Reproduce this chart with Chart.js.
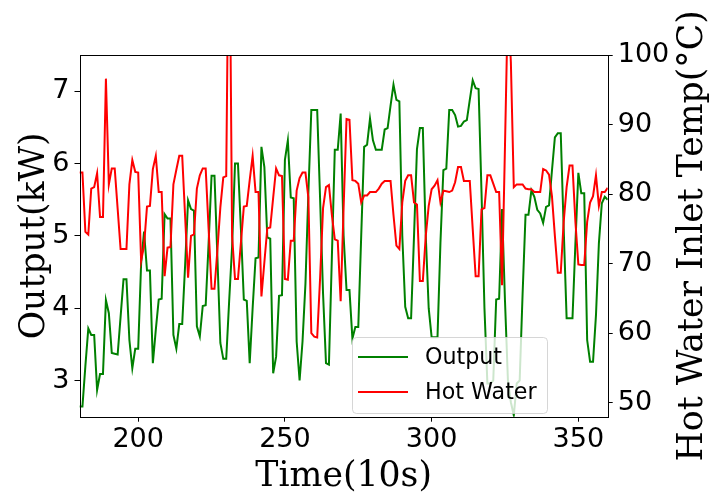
<!DOCTYPE html>
<html><head><meta charset="utf-8">
<script src="https://cdn.jsdelivr.net/npm/chart.js@4.4.1/dist/chart.umd.min.js"></script>
<style>html,body{margin:0;padding:0;background:#fff}</style>
</head><body>
<canvas id="c" width="710" height="496" style="width:710px;height:496px;display:block"></canvas>
<script>
const timeSteps = [
180,181,182,183,184,185,186,187,188,189,
190,191,192,193,194,195,196,197,198,199,
200,201,202,203,204,205,206,207,208,209,
210,211,212,213,214,215,216,217,218,219,
220,221,222,223,224,225,226,227,228,229,
230,231,232,233,234,235,236,237,238,239,
240,241,242,243,244,245,246,247,248,249,
250,251,252,253,254,255,256,257,258,259,
260,261,262,263,264,265,266,267,268,269,
270,271,272,273,274,275,276,277,278,279,
280,281,282,283,284,285,286,287,288,289,
290,291,292,293,294,295,296,297,298,299,
300,301,302,303,304,305,306,307,308,309,
310,311,312,313,314,315,316,317,318,319,
320,321,322,323,324,325,326,327,328,329,
330,331,332,333,334,335,336,337,338,339,
340,341,342,343,344,345,346,347,348,349,
350,351,352,353,354,355,356,357,358,359,
360];

const outputKW = [
2.64,2.64,3.2,3.72,3.63,3.63,2.87,3.09,3.09,4.11,
3.93,3.38,3.37,3.36,3.88,4.4,4.4,3.56,3.17,3.44,
3.44,4.62,5.06,4.52,4.52,3.24,3.7,4.12,4.13,5.3,
5.24,5.24,3.63,3.44,3.78,3.78,4.6,5.49,5.37,5.35,
3.75,3.61,4.03,4.04,4.9,5.83,5.83,4.7,3.52,3.3,
3.3,4.1,4.85,6.0,6.0,5.1,4.12,4.1,3.24,4.0,
4.69,4.7,6.23,5.95,4.98,4.96,3.1,3.33,4.17,4.18,
6.05,6.32,5.53,5.52,3.54,3.0,3.54,4.34,5.6,6.74,
6.74,6.74,5.5,4.2,3.24,3.22,4.7,6.19,6.19,6.69,
5.0,4.25,4.25,3.58,3.74,3.74,5.0,6.23,6.26,6.62,
6.32,6.19,6.19,6.19,6.47,6.49,6.8,7.09,6.88,6.86,
5.0,4.02,3.86,3.86,5.0,6.2,6.49,6.49,5.0,4.0,
3.6,3.6,3.6,4.9,5.91,5.93,6.74,6.74,6.67,6.51,
6.52,6.58,6.6,6.88,7.15,7.04,7.03,5.6,4.0,2.96,
2.96,3.0,4.12,4.13,5.37,4.1,3.0,2.7,2.52,2.96,
3.0,4.2,5.29,5.29,5.63,5.54,5.36,5.31,5.18,5.4,
5.42,5.9,6.36,6.42,6.42,5.1,3.86,3.86,3.86,4.9,
5.87,5.59,5.59,3.56,3.26,3.26,3.9,4.9,5.45,5.54,
5.5];

const hotWaterTemp = [
83.1,83.1,74.6,74.2,80.8,81.0,83.0,76.7,76.7,96.6,
81.4,83.7,83.7,77.9,72.1,72.1,72.1,81.4,84.9,83.2,
83.1,70.4,72.6,78.2,78.3,83.6,85.5,80.3,80.3,68.2,
72.3,72.4,81.4,83.5,85.5,85.5,76.7,68.0,74.0,74.2,
80.8,82.7,83.7,83.7,75.0,66.4,66.4,72.0,78.1,82.4,
82.6,126,74,67.8,67.8,73.0,78.2,78.3,82.0,85.5,
80.3,80.3,65.3,70.2,75.1,75.2,79.5,83.7,82.7,82.6,
67.8,67.7,73.3,73.3,80.5,82.3,83.1,83.1,79.5,60.0,
59.5,59.4,68.0,78.0,81.0,81.3,77.0,73.5,73.3,64.6,
78.0,90.8,90.7,82.0,81.9,81.5,78.8,79.8,79.8,80.3,
80.3,80.3,80.8,81.5,81.9,81.9,81.9,77.0,72.6,72.1,
78.8,81.9,82.7,82.7,78.8,78.5,67.5,67.5,74.0,78.3,
80.7,81.2,82.0,78.8,80.5,80.4,80.3,80.5,81.7,83.9,
83.9,81.9,81.9,81.9,75.0,68.2,68.2,77.8,78.0,82.7,
82.7,81.5,80.3,80.3,66.9,87.0,108.0,99.0,81.0,81.4,
81.4,81.4,80.8,80.7,80.7,80.3,80.3,80.3,83.6,83.4,
82.8,79.7,74.0,68.7,68.7,76.0,81.0,84.1,84.1,76.0,
69.9,69.8,69.8,76.0,78.8,79.7,82.7,78.3,80.3,80.3,
80.9];

const xTickValues = [200, 250, 300, 350];
const leftTickValues = [3, 4, 5, 6, 7];
const rightTickValues = [50, 60, 70, 80, 90, 100];

const seriesNames = ['Output', 'Hot Water'];
const xTitle = 'Time(10s)';
const leftTitle = 'Output(kW)';
const rightTitle = 'Hot Water Inlet Temp(°C)';

const SANS = '"DejaVu Sans", sans-serif';
const SERIF = '"DejaVu Serif", serif';
const GREEN = '#008000';
const RED = '#ff0000';

const overlay = {
  id: 'overlay',
  afterDatasetsDraw(chart) {
    const ctx = chart.ctx;
    const a = chart.chartArea;
    ctx.save();
    ctx.strokeStyle = '#000';
    ctx.lineWidth = 1;
    ctx.strokeRect(Math.round(a.left) + 0.5, Math.round(a.top) + 0.5,
                   Math.round(a.right) - Math.round(a.left), Math.round(a.bottom) - Math.round(a.top));
    const lx = 352, ly = 337, lw = 195, lh = 76;
    ctx.beginPath();
    ctx.roundRect(lx + 0.5, ly + 0.5, lw, lh, 4);
    ctx.fillStyle = 'rgba(255,255,255,0.8)';
    ctx.fill();
    ctx.strokeStyle = 'rgba(204,204,204,0.8)';
    ctx.lineWidth = 1;
    ctx.stroke();
    const rows = [[seriesNames[0], GREEN, 357], [seriesNames[1], RED, 392]];
    ctx.font = '22.2px ' + SANS;
    ctx.textBaseline = 'middle';
    ctx.textAlign = 'left';
    for (const [name, col, y] of rows) {
      ctx.beginPath();
      ctx.moveTo(358, y); ctx.lineTo(408, y);
      ctx.strokeStyle = col; ctx.lineWidth = 2; ctx.stroke();
      ctx.fillStyle = '#000';
      ctx.fillText(name, 425, y + 1);
    }
    ctx.fillStyle = '#000';
    ctx.font = '34.7px ' + SERIF;
    ctx.textAlign = 'center';
    ctx.textBaseline = 'alphabetic';
    ctx.fillText(xTitle, (a.left + a.right) / 2, 486);
    ctx.save();
    ctx.translate(44, (a.top + a.bottom) / 2);
    ctx.rotate(-Math.PI / 2);
    ctx.fillText(leftTitle, 0, 0);
    ctx.restore();
    ctx.save();
    ctx.translate(702, (a.top + a.bottom) / 2);
    ctx.rotate(-Math.PI / 2);
    ctx.fillText(rightTitle, 0, 0);
    ctx.restore();
    ctx.restore();
  }
};

const tickFont = { family: SANS, size: 27 };
const gridOpts = { drawOnChartArea: false, tickLength: 5, color: '#000', tickColor: '#000', lineWidth: 1 };

new Chart(document.getElementById('c'), {
  type: 'line',
  data: {
    datasets: [
      { label: seriesNames[1], data: timeSteps.map((t, i) => ({ x: t, y: hotWaterTemp[i] })),
        yAxisID: 'y2', borderColor: RED, borderWidth: 2, pointRadius: 0, tension: 0, fill: false, order: 0 },
      { label: seriesNames[0], data: timeSteps.map((t, i) => ({ x: t, y: outputKW[i] })),
        yAxisID: 'y', borderColor: GREEN, borderWidth: 2, pointRadius: 0, tension: 0, fill: false, order: 1 }
    ]
  },
  options: {
    responsive: false, animation: false, devicePixelRatio: 1,
    layout: { padding: { top: 55, left: 0, right: 0, bottom: 0 } },
    plugins: { legend: { display: false }, tooltip: { enabled: false } },
    scales: {
      x: {
        type: 'linear', min: 180, max: 360,
        afterBuildTicks: s => { s.ticks = xTickValues.map(v => ({ value: v })); },
        afterFit: s => { s.height = 79.3; },
        grid: gridOpts, border: { display: false },
        ticks: { color: '#000', font: tickFont, padding: 2, maxRotation: 0, autoSkip: false }
      },
      y: {
        position: 'left', min: 2.5, max: 7.5,
        afterBuildTicks: s => { s.ticks = leftTickValues.map(v => ({ value: v })); },
        afterFit: s => { s.width = 79.5; },
        grid: gridOpts, border: { display: false },
        ticks: { color: '#000', font: tickFont, padding: 5, autoSkip: false }
      },
      y2: {
        position: 'right', min: 48, max: 100,
        afterBuildTicks: s => { s.ticks = rightTickValues.map(v => ({ value: v })); },
        afterFit: s => { s.width = 102.3; },
        grid: gridOpts, border: { display: false },
        ticks: { color: '#000', font: tickFont, padding: 5, autoSkip: false }
      }
    }
  },
  plugins: [overlay]
});
</script>
</body></html>
